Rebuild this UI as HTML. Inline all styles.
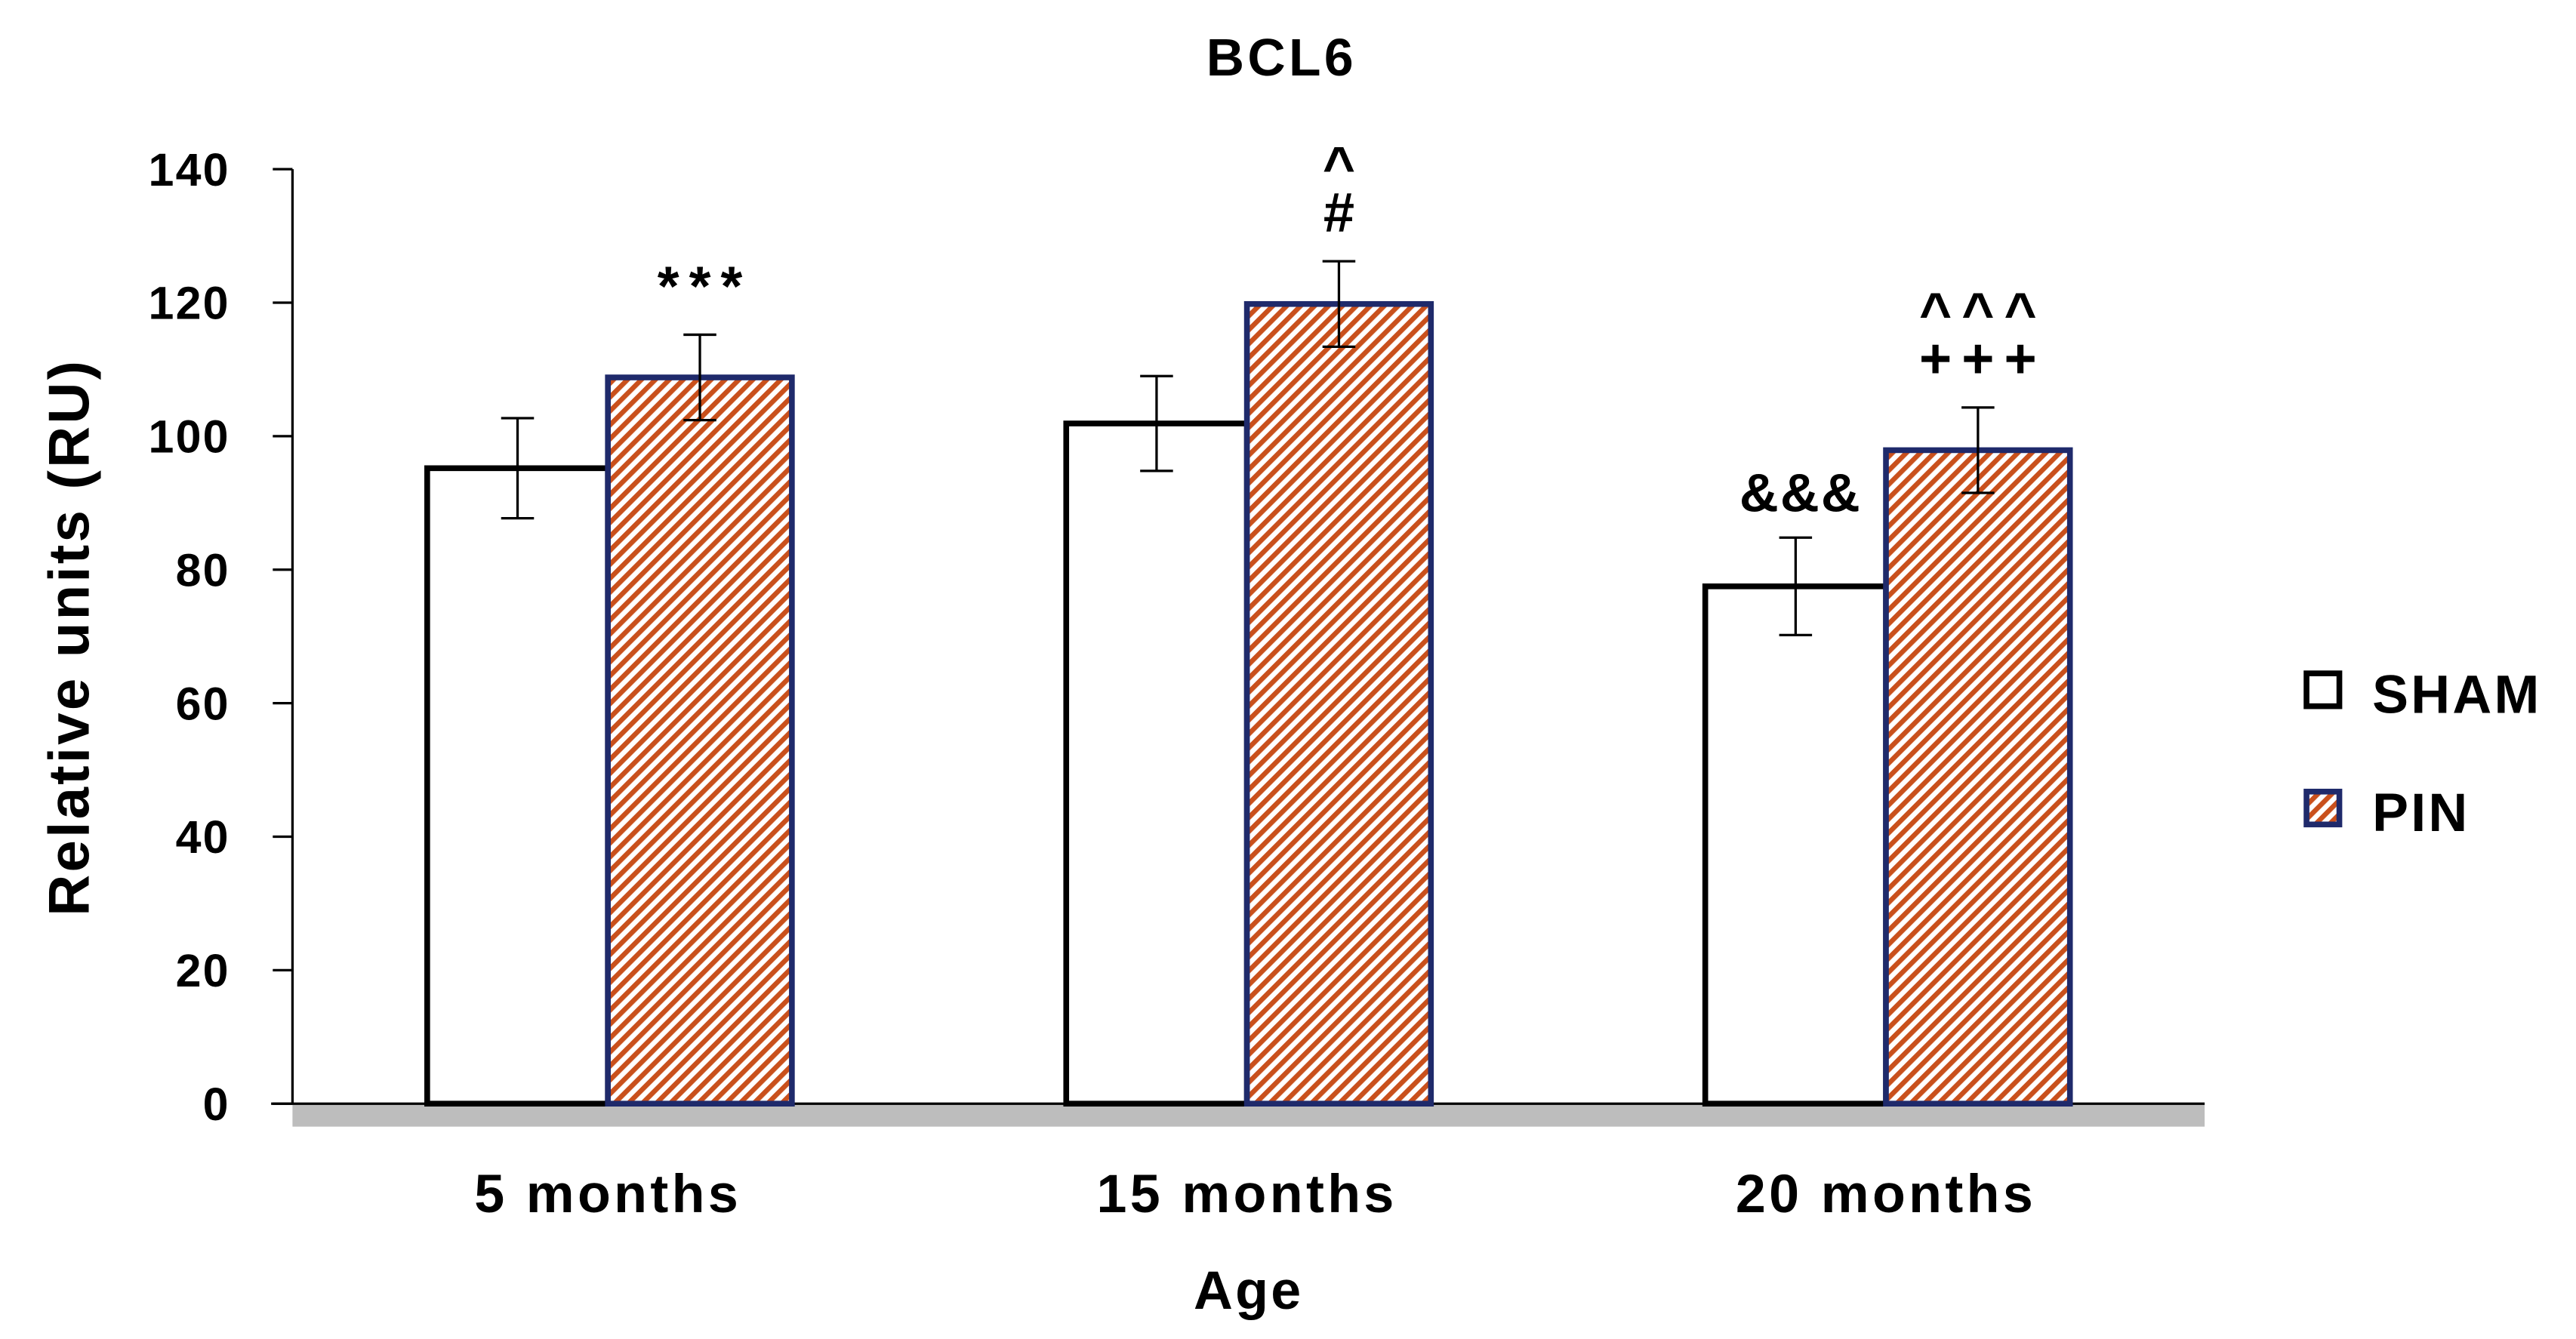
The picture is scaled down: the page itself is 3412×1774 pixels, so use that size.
<!DOCTYPE html>
<html><head><meta charset="utf-8"><style>
html,body{margin:0;padding:0;background:#fff;}
svg{display:block;font-family:"Liberation Sans",sans-serif;font-weight:bold;}
</style></head><body>
<svg id="chart" width="3412" height="1774" viewBox="0 0 1568 815.3" xmlns="http://www.w3.org/2000/svg">
<defs>
<pattern id="hatch" patternUnits="userSpaceOnUse" width="6" height="6" patternTransform="rotate(45)">
<rect width="6" height="6" fill="#fff"/>
<rect x="0" y="0" width="3" height="6" fill="#c9501c"/>
</pattern>
</defs>
<text x="780" y="46" text-anchor="middle" font-size="32" letter-spacing="2">BCL6</text>
<text transform="translate(54,388) rotate(-90)" text-anchor="middle" font-size="35" letter-spacing="1.5">Relative units (RU)</text>
<text x="760" y="797" text-anchor="middle" font-size="33" letter-spacing="1.5">Age</text>
<rect x="178" y="672" width="1164" height="14" fill="#bdbdbd"/>
<g id="axes"></g>
<g id="bars"></g>
<g>
<rect x="1404" y="410" width="20" height="20" fill="#fff" stroke="#000" stroke-width="3.5"/>
<text x="1444" y="434" font-size="33" letter-spacing="1.5">SHAM</text>
<rect x="1404" y="482" width="20" height="20" fill="url(#hatch)" stroke="#1f2a6b" stroke-width="3.5"/>
<text x="1444" y="506" font-size="33" letter-spacing="1.5">PIN</text>
</g>
</svg>
<script>
const categories = ["5 months", "15 months", "20 months"];
const shamValues = [95.2, 101.9, 77.5];
const pinValues = [108.8, 119.8, 97.9];
const shamErrors = [7.5, 7.1, 7.3];
const pinErrors = [6.4, 6.4, 6.4];
const pinAnnotations = [["***"], ["#", "^"], ["+++", "^^^"]];
const shamAnnotations = ["", "", "&&&"];
const yTicks = [0, 20, 40, 60, 80, 100, 120, 140];

const NS = "http://www.w3.org/2000/svg";
const y0 = 672, yTop = 103, yMax = 140;
function yScale(v){ return y0 - (v / yMax) * (y0 - yTop); }
const groupCenters0 = 370, groupStep = 389, barW = 112;
function xCenter(i){ return groupCenters0 + i * groupStep; }
function mk(tag, attrs, parent){ const e = document.createElementNS(NS, tag); for (const k in attrs) e.setAttribute(k, attrs[k]); parent.appendChild(e); return e; }

const axes = document.getElementById("axes");
const yl = mk("line", {x1:178, y1:yScale(yMax), x2:178, y2:y0, stroke:"#000", "stroke-width":1.5}, axes);


const xl = mk("line", {x1:165, y1:y0, x2:1342, y2:y0, stroke:"#000", "stroke-width":1.5}, axes);


yTicks.forEach(t => {
  const tk = mk("line", {x1:166, y1:yScale(t), x2:178, y2:yScale(t), stroke:"#000", "stroke-width":1.5}, axes);
  
  
  const tl = mk("text", {x:140, y:yScale(t)+10, "text-anchor":"end", "font-size":28, "letter-spacing":1}, axes);
  tl.textContent = t;
  
  
});

const bars = document.getElementById("bars");
categories.forEach((c, i) => {
  const xc = xCenter(i);
  const sx = xc - barW + 2;
  const sb = mk("rect", {x:sx, y:yScale(shamValues[i]), width:barW - 2, height:y0 - yScale(shamValues[i]), fill:"#fff", stroke:"#000", "stroke-width":3.5}, bars);
  
  
  const pb = mk("rect", {x:xc, y:yScale(pinValues[i]), width:barW, height:y0 - yScale(pinValues[i]), fill:"url(#hatch)", stroke:"#1f2a6b", "stroke-width":3.5}, bars);
  
  
  [[sx + (barW-2)/2, shamValues[i], shamErrors[i], 'sham'], [xc + barW/2, pinValues[i], pinErrors[i], 'pin']].forEach(([ex, v, e, s]) => {
    const g = mk("g", {stroke:"#000", "stroke-width":1.5}, bars);
    
    
    mk("line", {x1:ex, y1:yScale(v+e), x2:ex, y2:yScale(v-e)}, g);
    mk("line", {x1:ex-10, y1:yScale(v+e), x2:ex+10, y2:yScale(v+e)}, g);
    mk("line", {x1:ex-10, y1:yScale(v-e), x2:ex+10, y2:yScale(v-e)}, g);
  });
  pinAnnotations[i].forEach((a, k) => {
    const ty = yScale(pinValues[i] + pinErrors[i]) - 18 - k * 42 + (a[0] === "^" ? 14 : 0);
    const at = mk("text", {x:xc + barW/2 + (a.length>1?3:0), y:ty, "text-anchor":"middle", "font-size":34, "letter-spacing":a.length>1?6:0}, bars);
    at.textContent = a;
    
    
  });
  if (shamAnnotations[i]) {
    const st = mk("text", {x:sx + barW/2 + 2, y:yScale(shamValues[i] + shamErrors[i]) - 16, "text-anchor":"middle", "font-size":33, "letter-spacing":1}, bars);
    st.textContent = shamAnnotations[i];
    
    
  }
  const xlab = mk("text", {x:xc, y:738, "text-anchor":"middle", "font-size":33, "letter-spacing":2}, bars);
  xlab.textContent = c;
  
  
});
</script>
</body></html>
